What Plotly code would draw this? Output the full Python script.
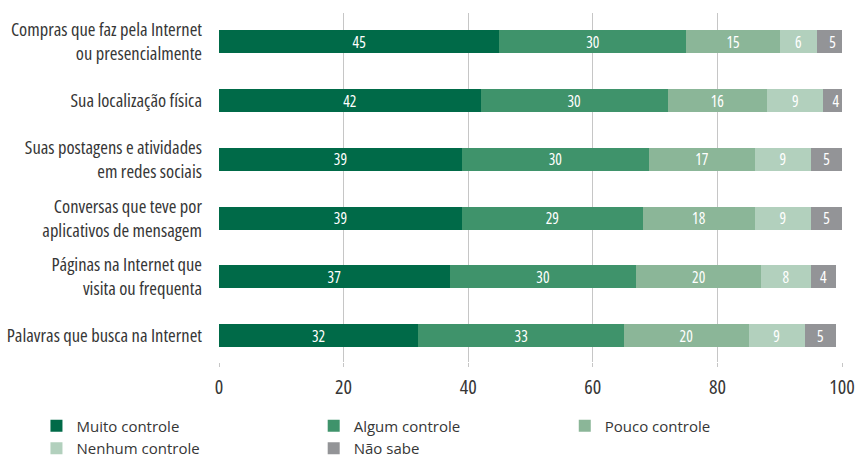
import plotly.graph_objects as go

# Survey categories (top to bottom)
categories = [
    "Compras que faz pela Internet<br>ou presencialmente",
    "Sua localização física",
    "Suas postagens e atividades<br>em redes sociais",
    "Conversas que teve por<br>aplicativos de mensagem",
    "Páginas na Internet que<br>visita ou frequenta",
    "Palavras que busca na Internet",
]

series_names = ["Muito controle", "Algum controle", "Pouco controle", "Nenhum controle", "Não sabe"]

muito = [45, 42, 39, 39, 37, 32]
algum = [30, 30, 30, 29, 30, 33]
pouco = [15, 16, 17, 18, 20, 20]
nenhum = [6, 9, 9, 9, 8, 9]
nao_sabe = [5, 4, 5, 5, 4, 5]

series_values = [muito, algum, pouco, nenhum, nao_sabe]
colors = ["#006a48", "#3f936b", "#8bb698", "#b2d0bd", "#939497"]
legend_ids = ["legend", "legend2", "legend3", "legend", "legend2"]

x_ticks = [0, 20, 40, 60, 80, 100]

FONT = "Open Sans"
TEXT_COLOR = "#363636"

fig = go.Figure()
for name, vals, col, lg in zip(series_names, series_values, colors, legend_ids):
    fig.add_trace(go.Bar(
        y=categories,
        x=vals,
        name=name,
        orientation="h",
        marker=dict(color=col, line=dict(width=0)),
        text=[str(v) for v in vals],
        textposition="inside",
        insidetextanchor="middle",
        constraintext="none",
        textangle=0,
        textfont=dict(color="white", size=15.5, family=FONT),
        legend=lg,
        hoverinfo="skip",
    ))

legend_common = dict(
    orientation="v",
    traceorder="normal",
    yanchor="top",
    y=-0.136,
    xanchor="left",
    font=dict(size=15, family=FONT, color=TEXT_COLOR),
    bgcolor="rgba(0,0,0,0)",
    tracegroupgap=0,
    itemclick=False,
    itemdoubleclick=False,
)

fig.update_layout(
    barmode="stack",
    bargap=0.61,
    width=859,
    height=455,
    margin=dict(l=219, r=17, t=13, b=93, autoexpand=False),
    paper_bgcolor="white",
    plot_bgcolor="white",
    font=dict(family=FONT, color=TEXT_COLOR),
    legend=dict(x=-0.293, **legend_common),
    legend2=dict(x=0.152, **legend_common),
    legend3=dict(x=0.555, **legend_common),
    xaxis=dict(
        range=[0, 100],
        tickvals=x_ticks,
        ticktext=[str(t) for t in x_ticks],
        showgrid=True,
        gridcolor="#c6c6c6",
        gridwidth=1,
        zeroline=False,
        showline=False,
        ticks="outside",
        ticklen=4,
        tickcolor="#c6c6c6",
        ticklabelstandoff=3,
        ticklabeloverflow="allow",
        tickfont=dict(size=20, family=FONT, color=TEXT_COLOR),
        fixedrange=True,
    ),
    yaxis=dict(
        categoryorder="array",
        categoryarray=categories,
        range=[5.45, -0.49],
        showgrid=False,
        zeroline=False,
        showline=False,
        ticks="",
        ticklabelstandoff=16,
        ticklabeloverflow="allow",
        tickfont=dict(size=18.5, family=FONT, color=TEXT_COLOR),
        fixedrange=True,
    ),
)

# Condensed widths for axis and bar labels
condensed_css = (
    "var s=document.createElement('style');"
    "s.textContent='"
    ".main-svg text{font-stretch:100% !important;}"
    ".main-svg g.ytick text{font-stretch:75% !important;}"
    ".main-svg g.xtick text{font-stretch:75% !important;}"
    ".main-svg text.bartext{font-stretch:75% !important;}"
    "';"
    "document.head.appendChild(s);"
)

fig.write_html("out.html", post_script=condensed_css)
